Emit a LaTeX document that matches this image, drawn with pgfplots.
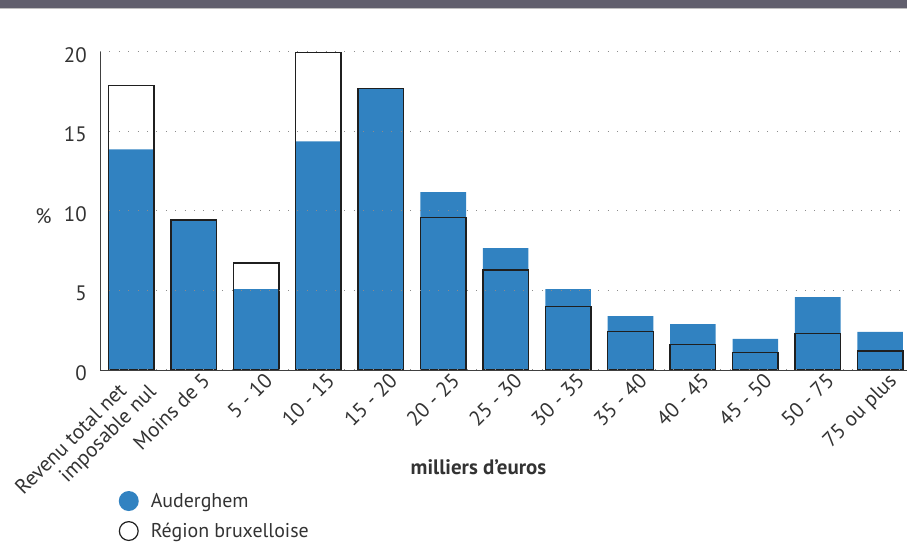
\documentclass[border=0pt]{standalone}
\usepackage{fontspec}
\setmainfont{PT Sans}
\usepackage{pgfplots}
\pgfplotsset{compat=1.18}
\definecolor{aud}{RGB}{49,130,193}
\definecolor{txt}{RGB}{51,51,51}
\definecolor{band}{RGB}{97,95,109}
\newcommand{\tickfont}{\fontsize{21}{22}\selectfont}
\newcommand{\lblfont}{\fontsize{20}{22}\selectfont}

\begin{document}
\begin{tikzpicture}[x=1bp,y=1bp]
\useasboundingbox (0,0) rectangle (907,542);
\fill[band] (0,533.5) rectangle (907,542);
\draw[gray!50, line width=1bp] (0,533) -- (907,533);
\begin{axis}[
  at={(100bp,172bp)}, anchor=south west,
  scale only axis, width=807bp, height=318bp,
  xmin=-0.5, xmax=12.43, ymin=0, ymax=20,
  ybar, bar width=0.73,
  axis lines*=left,
  axis line style={-, draw=black!75, line width=0.8bp},
  major tick length=0pt,
  ytick={0,5,10,15,20},
  ymajorgrids,
  grid style={draw=black!45, line width=1bp, dash pattern=on 0.8bp off 8.6bp},
  axis on top,
  xtick={1,...,12},
  xticklabels={Moins de 5,5 - 10,10 - 15,15 - 20,20 - 25,25 - 30,30 - 35,35 - 40,40 - 45,45 - 50,50 - 75,75 ou plus},
  extra x ticks={0},
  extra x tick labels={{Revenu total net\hspace*{20bp}\\imposable nul}},
  extra x tick style={xticklabel style={xshift=-2bp, yshift=8bp}},
  xticklabel style={rotate=45, anchor=north east, align=right, inner sep=1bp, xshift=5bp, yshift=-5bp},
  yticklabel style={inner sep=0pt, xshift=-13bp, yshift=-3bp},
  tick label style={font=\tickfont, text=txt},
  /pgf/number format/assume math mode=true,
  ylabel={\%},
  ylabel style={rotate=-90, at={(axis description cs:-0.070,0.485)}, anchor=center, font=\tickfont, text=txt},
  xlabel={\bfseries milliers d'euros},
  xlabel style={at={(axis description cs:0.469,-0.305)}, anchor=center, font=\tickfont, text=txt},
  legend style={draw=none, fill=none, at={(axis description cs:0.023,-0.38)}, anchor=north west,
    font=\lblfont, text=txt, row sep=10bp, legend cell align=left, inner sep=0pt},
]
\addplot[bar shift=0pt, fill=aud, draw=none,
  legend image code/.code={\fill[aud] (0,0) circle (10bp); \path[draw=none,fill=none] (0,0) -- (20bp,0);}]
  coordinates {(0,13.88) (1,9.42) (2,5.09) (3,14.38) (4,17.71) (5,11.18) (6,7.66)
               (7,5.09) (8,3.39) (9,2.89) (10,1.95) (11,4.59) (12,2.39)};
\addlegendentry{Auderghem}
\addplot[bar shift=0pt, fill=none, draw=black!88, line width=1.5bp,
  legend image code/.code={\draw[black!88, line width=1.2bp] (0,0) circle (9.4bp); \path[draw=none,fill=none] (0,0) -- (20bp,0);}]
  coordinates {(0,17.90) (1,9.42) (2,6.72) (3,19.97) (4,17.71) (5,9.59) (6,6.30)
               (7,4.00) (8,2.41) (9,1.61) (10,1.11) (11,2.28) (12,1.21)};
\addlegendentry{Région bruxelloise}
\end{axis}
\end{tikzpicture}
\end{document}
